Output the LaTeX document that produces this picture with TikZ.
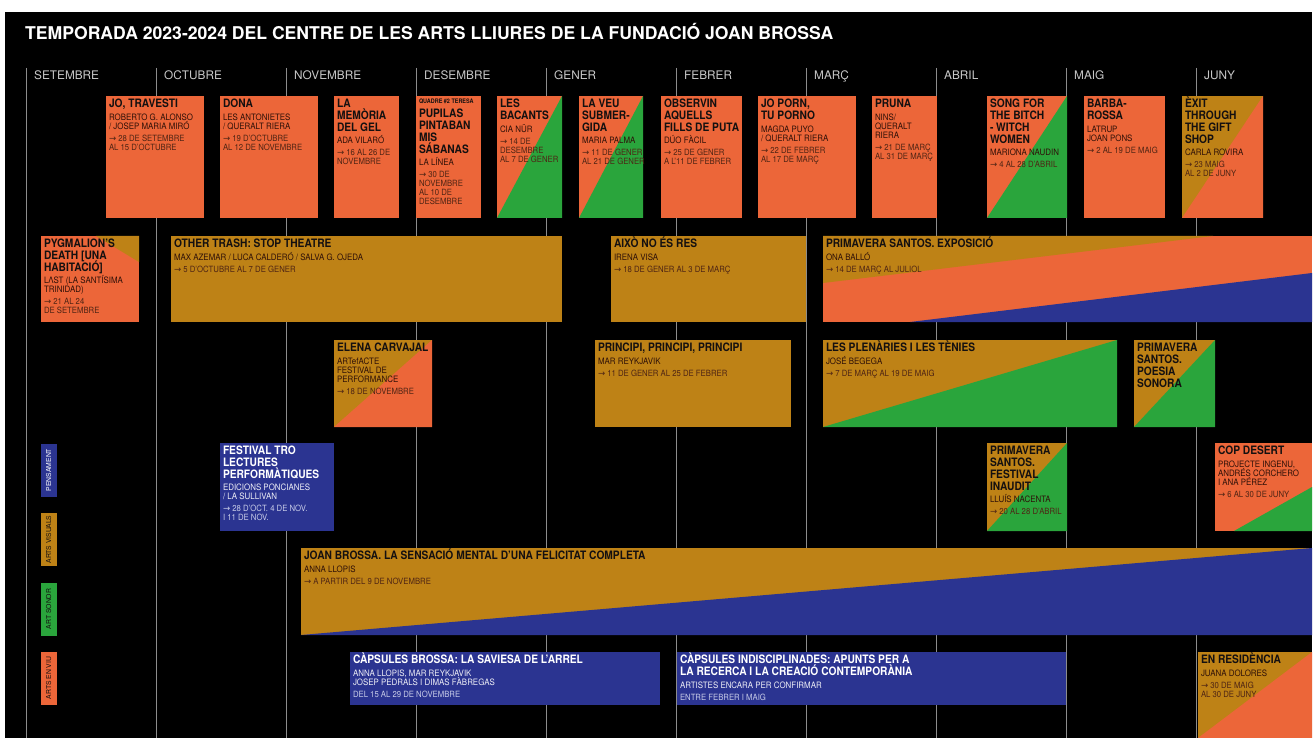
\documentclass[tikz,border=0pt]{standalone}
\usepackage{fontspec}
\setmainfont{TeX Gyre Heros}
\newfontfamily\cnd[FakeStretch=0.88]{TeX Gyre Heros}
\newfontfamily\cns[FakeStretch=0.9]{TeX Gyre Heros}
\newfontfamily\arw{DejaVu Sans}
\definecolor{evor}{HTML}{EC6639}
\definecolor{evoc}{HTML}{BE8216}
\definecolor{evgr}{HTML}{2AA53C}
\definecolor{evbl}{HTML}{2B3491}
\definecolor{evgl}{HTML}{8C8C8C}
\definecolor{evmon}{HTML}{C8C8C8}
\definecolor{tdark}{HTML}{141010}
\definecolor{tauth}{HTML}{2E1008}
\definecolor{tdate}{HTML}{4E2414}
\definecolor{wauth}{HTML}{EEEEF6}
\definecolor{wdate}{HTML}{C8CCE8}
\newcommand\ar{{\arw→}\ }
\newcommand\evT[1]{{\cnd\bfseries\fontsize{11.6}{11.8}\selectfont\color{tdark}\rule{0pt}{10.7pt}#1\par}}
\newcommand\evTn[1]{{\vspace{2pt}\cnd\bfseries\fontsize{11.6}{11.8}\selectfont\color{tdark}#1\par}}
\newcommand\evA[1]{{\vspace{3.6pt}\cns\fontsize{8.8}{9}\selectfont\color{tauth}#1\par}}
\newcommand\evD[1]{{\vspace{3pt}\cns\fontsize{8.6}{9}\selectfont\color{tdate}#1\par}}
\newcommand\evTw[1]{{\cnd\bfseries\fontsize{11.6}{11.8}\selectfont\color{white}\rule{0pt}{10.7pt}#1\par}}
\newcommand\evAw[1]{{\vspace{3.6pt}\cns\fontsize{8.8}{9}\selectfont\color{wauth}#1\par}}
\newcommand\evDw[1]{{\vspace{3pt}\cns\fontsize{8.6}{9}\selectfont\color{wdate}#1\par}}
\newcommand\evbox[6]{\node[evb,#6,minimum width={(#4-#2)*1pt},minimum height={(#5-#3)*1pt}] (#1) at (#2,#3) {};}
\newcommand\evtext[3]{\node[evtx] (#1) at ([shift={(3pt,-1pt)}]#2.north west) {\parbox[t]{500pt}{\raggedright\lineskiplimit=-30pt #3}};}
\begin{document}
\begin{tikzpicture}[x=1pt,y=-1pt,
  evb/.style={rectangle,inner sep=0pt,outer sep=0pt,anchor=north west,draw=none},
  evtx/.style={inner sep=0pt,outer sep=0pt,anchor=north west},
  splitlr/.style={path picture={\fill[#1] (path picture bounding box.south west) -- (path picture bounding box.north east) -- (path picture bounding box.south east) -- cycle;}},
  evline/.style={draw=evgl,line width=0.9pt},
  evmonth/.style={anchor=base west,inner sep=0pt,text=evmon,font=\fontsize{11.8}{12}\selectfont},
  evleg/.style={rectangle,rotate=90,inner sep=0pt,minimum width=53pt,minimum height=16pt,font=\fontsize{6.8}{7}\selectfont},
]
\useasboundingbox (0,0) rectangle (1315,738);
\fill[white] (0,0) rectangle (1315,738);
\fill[black] (5,12) rectangle (1312,738);
\node[anchor=base west,inner sep=0pt,text=white,font=\bfseries\fontsize{17.6}{20}\selectfont] (title) at (25,39.3) {TEMPORADA 2023-2024 DEL CENTRE DE LES ARTS LLIURES DE LA FUNDACIÓ JOAN BROSSA};
% month lines
\foreach \x/\m/\n in {26/SETEMBRE/set,156/OCTUBRE/oct,286/NOVEMBRE/nov,416/DESEMBRE/des,546/GENER/gen,676/FEBRER/feb,806/MARÇ/mar,936/ABRIL/abr,1066/MAIG/mai,1196/JUNY/jun}{
  \coordinate (l\n top) at (\x,68);
  \coordinate (l\n bot) at (\x,738);
  \draw[evline] (l\n top) -- (l\n bot);
  \node[evmonth] (m\n) at (\x+8,80) {\m};
}
% legend
\node[evleg,fill=evbl,text=white] (lg1) at (48.7,470) {PENSAMENT};
\node[evleg,fill=evoc,text=tdark] (lg2) at (48.7,539.5) {ARTS VISUALS};
\node[evleg,fill=evgr,text=tdark] (lg3) at (48.7,609) {ART SONOR};
\node[evleg,fill=evor,text=tdark] (lg4) at (48.7,678) {ARTS EN VIU};
% row 1
\evbox{b1}{106}{96}{204}{218}{fill=evor}
\evtext{b1t}{b1}{\evT{JO, TRAVESTI}\evA{ROBERTO G. ALONSO\\/ JOSEP MARIA MIRÓ}\evD{\ar 28 DE SETEMBRE\\AL 15 D’OCTUBRE}}
\evbox{b2}{220}{96}{318}{218}{fill=evor}
\evtext{b2t}{b2}{\evT{DONA}\evA{LES ANTONIETES\\/ QUERALT RIERA}\evD{\ar 19 D’OCTUBRE\\AL 12 DE NOVEMBRE}}
\evbox{b3}{334}{96}{399}{218}{fill=evor}
\evtext{b3t}{b3}{\evT{LA\\MEMÒRIA\\DEL GEL}\evA{ADA VILARÓ}\evD{\ar 16 AL 26 DE\\NOVEMBRE}}
\evbox{b4}{416}{96}{481}{218}{fill=evor}
\evtext{b4t}{b4}{{\cnd\bfseries\fontsize{6.2}{6.5}\selectfont\color{tdark}\rule{0pt}{7pt}QUADRE \#2 TERESA\par}\evTn{PUPILAS\\PINTABAN\\MIS\\SÁBANAS}\evA{LA LÍNEA}\evD{\ar 30 DE\\NOVEMBRE\\AL 10 DE\\DESEMBRE}}
\evbox{b5}{497}{96}{562}{218}{fill=evor,splitlr=evgr}
\evtext{b5t}{b5}{\evT{LES\\BACANTS}\evA{CIA NÜR}\evD{\ar 14 DE\\DESEMBRE\\AL 7 DE GENER}}
\evbox{b6}{579}{96}{643}{218}{fill=evor,splitlr=evgr}
\evtext{b6t}{b6}{\evT{LA VEU\\SUBMER-\\GIDA}\evA{MARIA PALMA}\evD{\ar 11 DE GENER\\AL 21 DE GENER}}
\evbox{b7}{661}{96}{742}{218}{fill=evor}
\evtext{b7t}{b7}{\evT{OBSERVIN\\AQUELLS\\FILLS DE PUTA}\evA{DÚO FÀCIL}\evD{\ar 25 DE GENER\\A L’11 DE FEBRER}}
\evbox{b8}{758}{96}{856}{218}{fill=evor}
\evtext{b8t}{b8}{\evT{JO PORN,\\TU PORNO}\evA{MAGDA PUYO\\/ QUERALT RIERA}\evD{\ar 22 DE FEBRER\\AL 17 DE MARÇ}}
\evbox{b9}{872}{96}{937}{218}{fill=evor}
\evtext{b9t}{b9}{\evT{PRUNA}\evA{NINS/\\QUERALT\\RIERA}\evD{\ar 21 DE MARÇ\\AL 31 DE MARÇ}}
\evbox{b10}{987}{96}{1067}{218}{fill=evor,splitlr=evgr}
\evtext{b10t}{b10}{\evT{SONG FOR\\THE BITCH\\- WITCH\\WOMEN}\evA{MARIONA NAUDIN}\evD{\ar 4 AL 28 D’ABRIL}}
\evbox{b11}{1084}{96}{1165}{218}{fill=evor}
\evtext{b11t}{b11}{\evT{BARBA-\\ROSSA}\evA{LATRUP\\JOAN PONS}\evD{\ar 2 AL 19 DE MAIG}}
\evbox{b12}{1182}{96}{1263}{218}{fill=evoc,splitlr=evor}
\evtext{b12t}{b12}{\evT{ÈXIT\\THROUGH\\THE GIFT\\SHOP}\evA{CARLA ROVIRA}\evD{\ar 23 MAIG\\AL 2 DE JUNY}}
% row 2
\evbox{c1}{41}{236}{139}{322}{fill=evor}
\fill[evoc] (96,236) -- (139,236) -- (139,262) -- cycle;
\evtext{c1t}{c1}{\evT{PYGMALION’S\\DEATH [UNA\\HABITACIÓ]}\evA{LΛST (LA SANTÍSIMA\\TRINIDAD)}\evD{\ar 21 AL 24\\DE SETEMBRE}}
\evbox{c2}{171}{236}{562}{322}{fill=evoc}
\evtext{c2t}{c2}{\evT{OTHER TRASH: STOP THEATRE}\evA{MAX AZEMAR / LUCA CALDERÓ / SALVA G. OJEDA}\evD{\ar 5 D’OCTUBRE AL 7 DE GENER}}
\evbox{c3}{611}{236}{806}{322}{fill=evoc}
\evtext{c3t}{c3}{\evT{AIXÒ NO ÉS RES}\evA{IRENA VISA}\evD{\ar 18 DE GENER AL 3 DE MARÇ}}
\evbox{c4}{823}{236}{1312}{322}{fill=evor}
\fill[evoc] (823,236) -- (1213,236) -- (823,283) -- cycle;
\fill[evbl] (910,322) -- (1312,273) -- (1312,322) -- cycle;
\evtext{c4t}{c4}{\evT{PRIMAVERA SANTOS. EXPOSICIÓ}\evA{ONA BALLÓ}\evD{\ar 14 DE MARÇ AL JULIOL}}
% row 3
\evbox{d1}{334}{340}{432}{427}{fill=evoc,splitlr=evor}
\evtext{d1t}{d1}{\evT{ELENA CARVAJAL}\evA{ARTefACTE\\FESTIVAL DE\\PERFORMANCE}\evD{\ar 18 DE NOVEMBRE}}
\evbox{d2}{595}{340}{791}{427}{fill=evoc}
\evtext{d2t}{d2}{\evT{PRINCIPI, PRINCIPI, PRINCIPI}\evA{MAR REYKJAVIK}\evD{\ar 11 DE GENER AL 25 DE FEBRER}}
\evbox{d3}{823}{340}{1117}{427}{fill=evoc,splitlr=evgr}
\evtext{d3t}{d3}{\evT{LES PLENÀRIES I LES TÈNIES}\evA{JOSÉ BEGEGA}\evD{\ar 7 DE MARÇ AL 19 DE MAIG}}
\evbox{d4}{1134}{340}{1215}{427}{fill=evoc,splitlr=evgr}
\evtext{d4t}{d4}{\evT{PRIMAVERA\\SANTOS.\\POESIA\\SONORA}}
% row 4
\evbox{e1}{220}{443}{334}{531}{fill=evbl}
\evtext{e1t}{e1}{\evTw{FESTIVAL TRO\\LECTURES\\PERFORMÀTIQUES}\evAw{EDICIONS PONCIANES\\/ LA SULLIVAN}\evDw{\ar 28 D’OCT. 4 DE NOV.\\I 11 DE NOV.}}
\evbox{e2}{987}{443}{1067}{531}{fill=evoc,splitlr=evgr}
\evtext{e2t}{e2}{\evT{PRIMAVERA\\SANTOS.\\FESTIVAL\\INAUDIT}\evA{LLUÍS NACENTA}\evD{\ar 20 AL 28 D’ABRIL}}
\evbox{e3}{1215}{443}{1312}{531}{fill=evor}
\fill[evgr] (1234,531) -- (1312,487) -- (1312,531) -- cycle;
\evtext{e3t}{e3}{\evT{COP DESERT}\evA{PROJECTE INGENU,\\ANDRÉS CORCHERO\\I ANA PÉREZ}\evD{\ar 6 AL 30 DE JUNY}}
% row 5
\evbox{f1}{301}{548}{1312}{635}{fill=evoc,splitlr=evbl}
\evtext{f1t}{f1}{\evT{JOAN BROSSA. LA SENSACIÓ MENTAL D’UNA FELICITAT COMPLETA}\evA{ANNA LLOPIS}\evD{\ar A PARTIR DEL 9 DE NOVEMBRE}}
% row 6
\evbox{g1}{350}{652}{660}{705}{fill=evbl}
\evtext{g1t}{g1}{\evTw{CÀPSULES BROSSA: LA SAVIESA DE L’ARREL}\evAw{ANNA LLOPIS, MAR REYKJAVIK\\JOSEP PEDRALS I DIMAS FÀBREGAS}\evDw{DEL 15 AL 29 DE NOVEMBRE}}
\evbox{g2}{677}{652}{1066}{705}{fill=evbl}
\evtext{g2t}{g2}{\evTw{CÀPSULES INDISCIPLINADES: APUNTS PER A\\LA RECERCA I LA CREACIÓ CONTEMPORÀNIA}\evAw{ARTISTES ENCARA PER CONFIRMAR}\evDw{ENTRE FEBRER I MAIG}}
\evbox{g3}{1198}{652}{1312}{738}{fill=evoc,splitlr=evor}
\evtext{g3t}{g3}{\evT{EN RESIDÈNCIA}\evA{JUANA DOLORES}\evD{\ar 30 DE MAIG\\AL 30 DE JUNY}}
\end{tikzpicture}
\end{document}
